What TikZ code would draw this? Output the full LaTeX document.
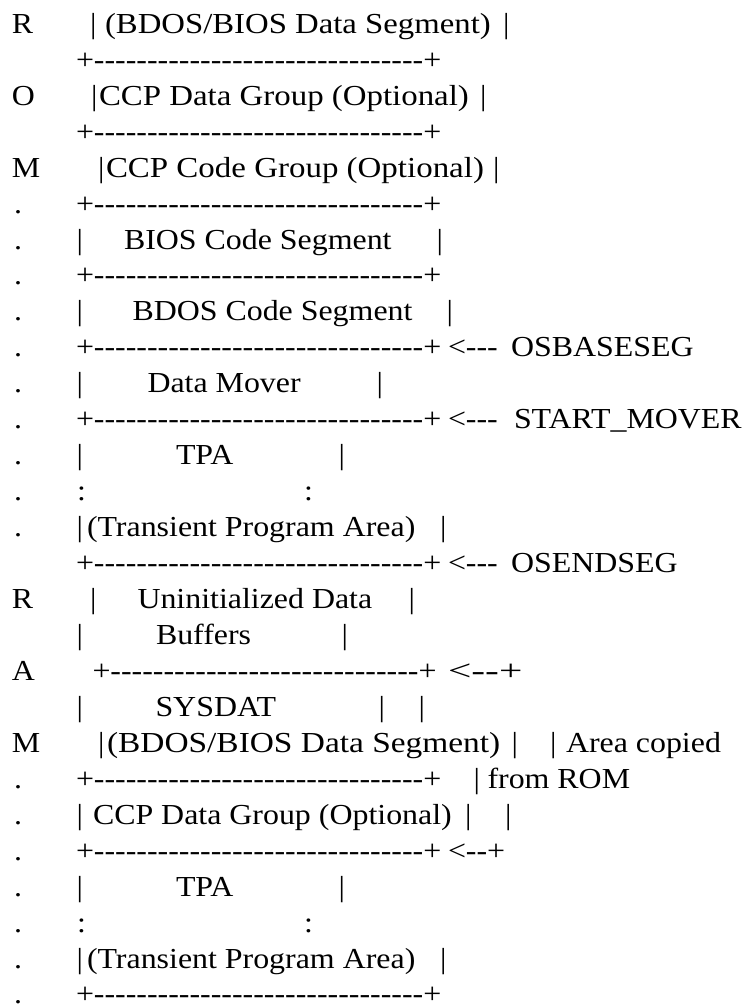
\documentclass[tikz,border=0pt]{standalone}
\usepackage{fontspec}
% Times-metric serif, slightly widened, without TeX dash ligatures
\newfontfamily\asc[FakeStretch=1.1]{Liberation Serif}
% horizontally widened text run
\newcommand\wide[2]{\scalebox{#1}[1]{#2}}
\begin{document}
\begin{tikzpicture}[x=0.75pt,y=-26.9625pt,yshift=-1.9875pt,
  txt/.style={anchor=base west,inner sep=0pt,outer sep=0pt,
    font=\asc\fontsize{21.75pt}{26pt}\selectfont}]
\useasboundingbox (0,0.0737) rectangle (746,28.057);

% left margin letters
\node[txt] (mR1) at (12,1)  {R};
\node[txt] (mO1) at (12,3)  {O};
\node[txt] (mM1) at (12,5)  {M};
\foreach \i in {6,...,15} {\node[txt] (dotA\i) at (14,\i) {.};}
\node[txt] (mR2) at (12,17) {R};
\node[txt] (mA2) at (12,19) {A};
\node[txt] (mM2) at (12,21) {M};
\foreach \i in {22,...,28} {\node[txt] (dotB\i) at (14,\i) {.};}

% ROM image
\node[txt] (b1l) at (90,1)    {|};
\node[txt] (t1)  at (105,1)   {\wide{1.027}{(BDOS/BIOS Data Segment)}};
\node[txt] (b1r) at (503,1)   {|};
\node[txt] (s2)  at (76,2)    {+-------------------------------+};
\node[txt] (b3l) at (91,3)    {|};
\node[txt] (t3)  at (99,3)    {\wide{1.031}{CCP Data Group (Optional)}};
\node[txt] (b3r) at (480,3)   {|};
\node[txt] (s4)  at (76,4)    {+-------------------------------+};
\node[txt] (b5l) at (98,5)    {|};
\node[txt] (t5)  at (106,5)   {\wide{1.033}{CCP Code Group (Optional)}};
\node[txt] (b5r) at (493,5)   {|};
\node[txt] (s6)  at (76,6)    {+-------------------------------+};
\node[txt] (b7l) at (76.5,7)  {|};
\node[txt] (t7)  at (124,7)   {BIOS Code Segment};
\node[txt] (b7r) at (436.5,7) {|};
\node[txt] (s8)  at (76,8)    {+-------------------------------+};
\node[txt] (b9l) at (76.5,9)  {|};
\node[txt] (t9)  at (132.5,9) {BDOS Code Segment};
\node[txt] (b9r) at (446.5,9) {|};
\node[txt] (s10) at (76,10)   {+-------------------------------+};
\node[txt] (a10) at (448,10)  {<---};
\node[txt] (n10) at (511,10)  {OSBASESEG};
\node[txt] (b11l) at (76.5,11) {|};
\node[txt] (t11) at (147.5,11) {Data Mover};
\node[txt] (b11r) at (376.5,11) {|};
\node[txt] (s12) at (76,12)   {+-------------------------------+};
\node[txt] (a12) at (448,12)  {<---};
\node[txt] (n12) at (514,12)  {START\_MOVER};
\node[txt] (b13l) at (76.5,13) {|};
\node[txt] (t13) at (176,13)  {TPA};
\node[txt] (b13r) at (338.5,13) {|};
\node[txt] (c14l) at (77,14)  {:};
\node[txt] (c14r) at (304,14) {:};
\node[txt] (b15l) at (76.5,15) {|};
\node[txt] (t15) at (87,15)   {(Transient Program Area)};
\node[txt] (b15r) at (440,15) {|};
\node[txt] (s16) at (76,16)   {+-------------------------------+};
\node[txt] (a16) at (448,16)  {<---};
\node[txt] (n16) at (511,16)  {OSENDSEG};

% RAM image
\node[txt] (b17l) at (90,17)  {|};
\node[txt] (t17) at (137.5,17) {Uninitialized Data};
\node[txt] (b17r) at (408.5,17) {|};
\node[txt] (b18l) at (76.5,18) {|};
\node[txt] (t18) at (156,18)  {Buffers};
\node[txt] (b18r) at (341.5,18) {|};
\node[txt] (s19) at (92.5,19) {+-----------------------------+};
\node[txt] (a19) at (448,19)  {\wide{1.3}{<--+}};
\node[txt] (b20l) at (76.5,20) {|};
\node[txt] (t20) at (155.5,20) {SYSDAT};
\node[txt] (b20r) at (378.5,20) {|};
\node[txt] (k20) at (418.5,20) {|};
\node[txt] (b21l) at (98,21)  {|};
\node[txt] (t21) at (107,21)  {\wide{1.047}{(BDOS/BIOS Data Segment)}};
\node[txt] (b21r) at (511.5,21) {|};
\node[txt] (k21) at (550,21)  {|};
\node[txt] (n21) at (566,21)  {Area copied};
\node[txt] (s22) at (76,22)   {+-------------------------------+};
\node[txt] (k22) at (473.5,22) {|};
\node[txt] (n22) at (487.5,22) {from ROM};
\node[txt] (b23l) at (76.5,23) {|};
\node[txt] (t23) at (93,23)   {CCP Data Group (Optional)};
\node[txt] (b23r) at (465,23) {|};
\node[txt] (k23) at (505,23)  {|};
\node[txt] (s24) at (76,24)   {+-------------------------------+};
\node[txt] (a24) at (448,24)  {<--+};
\node[txt] (b25l) at (76.5,25) {|};
\node[txt] (t25) at (176,25)  {TPA};
\node[txt] (b25r) at (338.5,25) {|};
\node[txt] (c26l) at (77,26)  {:};
\node[txt] (c26r) at (304,26) {:};
\node[txt] (b27l) at (76.5,27) {|};
\node[txt] (t27) at (87,27)   {(Transient Program Area)};
\node[txt] (b27r) at (440,27) {|};
\node[txt] (s28) at (76,28)   {+-------------------------------+};
\end{tikzpicture}
\end{document}
